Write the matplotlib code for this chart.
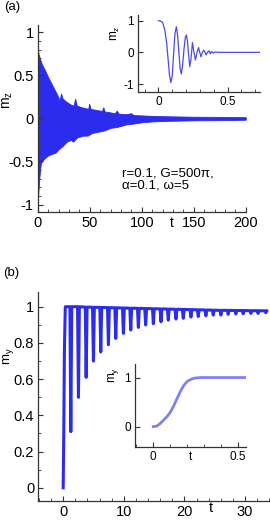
import matplotlib
matplotlib.use("Agg")
import matplotlib.pyplot as plt
from matplotlib.ticker import MultipleLocator

plt.rcParams['font.family'] = ['Liberation Sans', 'DejaVu Sans']
plt.rcParams['mathtext.fontset'] = 'custom'
plt.rcParams['mathtext.rm'] = 'Liberation Sans'
plt.rcParams['mathtext.it'] = 'Liberation Sans:italic'

BLUE = '#2c2cee'

# ---- panel (a): m_z envelope of the fast oscillation ----
a_up_t = [0, 1, 2, 4, 7, 10, 13, 16, 19, 21, 22.5, 24, 28, 32, 34.5, 36, 37.5,
          42, 46, 48.5, 49.5, 51, 56, 60, 62, 63, 64.5, 70, 74, 76, 78, 85, 90,
          92, 100, 110, 125, 150, 175, 200]
a_up_m = [0.80, 0.74, 0.70, 0.63, 0.56, 0.48, 0.41, 0.34, 0.27, 0.21, 0.29, 0.23,
          0.19, 0.16, 0.15, 0.23, 0.15, 0.13, 0.12, 0.11, 0.17, 0.11, 0.10, 0.09,
          0.09, 0.13, 0.08, 0.07, 0.06, 0.09, 0.055, 0.05, 0.06, 0.04, 0.035,
          0.03, 0.025, 0.02, 0.018, 0.015]
a_lo_t = [0, 0.5, 1.5, 3, 6, 10, 14, 17, 20, 24, 28, 32, 34, 38, 44, 48, 52, 60,
          64, 70, 76, 85, 92, 100, 110, 125, 150, 175, 200]
a_lo_m = [-0.95, -0.88, -0.70, -0.52, -0.47, -0.43, -0.41, -0.40, -0.36, -0.32,
          -0.27, -0.25, -0.27, -0.22, -0.20, -0.20, -0.17, -0.15, -0.14, -0.11,
          -0.10, -0.07, -0.06, -0.045, -0.035, -0.028, -0.022, -0.02, -0.015]

# inset (a): early-time m_z
ia_t = [0, 0.015, 0.03, 0.045, 0.06, 0.07, 0.08, 0.09, 0.1, 0.11, 0.12, 0.13,
        0.14, 0.148, 0.157, 0.166, 0.175, 0.185, 0.195, 0.203, 0.21, 0.217,
        0.227, 0.236, 0.246, 0.257, 0.268, 0.279, 0.29, 0.299, 0.308, 0.318,
        0.328, 0.337, 0.345, 0.355, 0.365, 0.375, 0.385, 0.395, 0.41, 0.44, 0.73]
ia_m = [1.0, 0.99, 0.95, 0.75, 0.3, -0.2, -0.7, -0.95, -0.75, -0.05, 0.6, 0.81,
        0.5, 0.0, -0.5, -0.68, -0.4, 0.1, 0.48, 0.55, 0.35, 0.0, -0.45, -0.2,
        0.31, 0.0, -0.24, 0.0, 0.15, 0.0, -0.14, 0.0, 0.07, 0.0, -0.08, 0.0,
        0.05, -0.04, 0.03, -0.02, 0.01, 0.0, 0.0]

# ---- panel (b): m_y ----
rise_t = [0.0, 0.1, 0.2, 0.35]
rise_m = [0.0, 0.3, 0.75, 1.0]
dip_t = [1.26, 2.52, 3.79, 4.99, 6.20, 7.46, 8.67, 9.93, 11.14, 12.40, 13.60,
         14.87, 16.13, 17.33, 18.60, 19.80, 21.06, 22.27, 23.53, 24.74, 26.00,
         27.21, 28.47, 29.68, 30.94, 32.14, 33.41]
dip_m = [0.31, 0.50, 0.61, 0.70, 0.75, 0.79, 0.825, 0.853, 0.871, 0.886, 0.899,
         0.906, 0.917, 0.926, 0.932, 0.936, 0.943, 0.946, 0.95, 0.954, 0.954,
         0.958, 0.96, 0.961, 0.963, 0.963, 0.967]
top_m = [1.0, 1.0, 0.998, 0.997, 0.996, 0.995, 0.994, 0.993, 0.992, 0.991, 0.99,
         0.989, 0.988, 0.987, 0.986, 0.985, 0.984, 0.983, 0.982, 0.981, 0.98,
         0.98, 0.979, 0.979, 0.978, 0.978, 0.977]

# inset (b): early-time m_y
ib_t = [0, 0.02, 0.04, 0.06, 0.08, 0.1, 0.12, 0.14, 0.16, 0.18, 0.2, 0.22,
        0.24, 0.26, 0.28, 0.3, 0.4, 0.55]
ib_m = [0, 0.01, 0.06, 0.13, 0.2, 0.29, 0.42, 0.57, 0.72, 0.84, 0.92, 0.96,
        0.985, 0.995, 1.0, 1.0, 1.0, 1.0]


def style(ax, fs):
    for s in ('top', 'right'):
        ax.spines[s].set_visible(False)
    for s in ('left', 'bottom'):
        ax.spines[s].set_linewidth(0.9)
        ax.spines[s].set_color('#333333')
    ax.tick_params(which='both', direction='in', labelsize=fs, pad=3,
                   color='#333333')
    ax.tick_params(which='major', length=3.5, width=0.8)
    ax.tick_params(which='minor', length=2, width=0.6)


W, H = 270.0, 520.0
fig = plt.figure(figsize=(2.7, 5.2), dpi=100)


def rect(l, r, t, b):
    return [l / W, (H - b) / H, (r - l) / W, (b - t) / H]


# main (a)
ax = fig.add_axes(rect(37.7, 245.7, 25, 212.3))
ax.fill_between(a_up_t, a_up_m, 0, color=BLUE, lw=0.6)
ax.fill_between(a_lo_t, a_lo_m, 0, color=BLUE, lw=0.6)
ax.set_xlim(0, 200)
ax.set_ylim(-1.09, 1.085)
ax.xaxis.set_major_locator(MultipleLocator(50))
ax.xaxis.set_minor_locator(MultipleLocator(10))
ax.yaxis.set_minor_locator(MultipleLocator(0.1))
ax.set_yticks([-1, -0.5, 0, 0.5, 1])
ax.set_yticklabels(['-1', '-0.5', '0', '0.5', '1'])
style(ax, 10.5)
ax.set_ylabel(r'$\mathregular{m_z}$', fontsize=10)
ax.yaxis.set_label_coords(-0.11, 0.6)
ax.set_xlabel('t', fontsize=10)
ax.xaxis.set_label_coords(0.646, -0.055)
ax.xaxis.label.set_va('center')
ax.text(80.8, -0.71, 'r=0.1, G=500\u03c0,\n\u03b1=0.1, \u03c9=5', fontsize=9.6,
        va='center', linespacing=0.95)

# inset (a)
ax = fig.add_axes(rect(138, 260, 15, 91.7))
ax.set_facecolor('white')
ax.plot(ia_t, ia_m, color='#4a4af0', lw=0.9)
ax.set_xlim(-0.147, 0.734)
ax.set_ylim(-1.24, 1.18)
ax.set_xticks([0, 0.5])
ax.set_xticklabels(['0', '0.5'])
ax.xaxis.set_minor_locator(MultipleLocator(0.1))
ax.set_yticks([-1, 0, 1])
ax.set_yticklabels(['-1', '0', '1'])
style(ax, 8.5)
ax.set_ylabel(r'$\mathregular{m_z}$', fontsize=8.5)
ax.yaxis.set_label_coords(-0.13, 0.76)

# main (b)
tb = list(rise_t)
mb = list(rise_m)
for t, m, p in zip(dip_t, dip_m, top_m):
    tb += [t - 0.15, t, t + 0.15]
    mb += [p, m, p]
ax = fig.add_axes(rect(38.3, 270, 291.7, 500.5))
ax.plot(tb, mb, color=BLUE, lw=2.2, solid_joinstyle='round')
ax.set_xlim(-4.1, 34.1)
ax.set_ylim(-0.07, 1.083)
ax.xaxis.set_major_locator(MultipleLocator(10))
ax.xaxis.set_minor_locator(MultipleLocator(2))
ax.yaxis.set_minor_locator(MultipleLocator(0.1))
ax.set_yticks([0, 0.2, 0.4, 0.6, 0.8, 1.0])
ax.set_yticklabels(['0', '0.2', '0.4', '0.6', '0.8', '1'])
style(ax, 10.5)
ax.set_ylabel(r'$\mathregular{m_y}$', fontsize=9.5)
ax.yaxis.set_label_coords(-0.098, 0.69)
ax.set_xlabel('t', fontsize=10.5)
ax.xaxis.set_label_coords(0.744, -0.035)
ax.xaxis.label.set_va('center')

# inset (b)
ax = fig.add_axes(rect(135, 246, 364.3, 446.7))
ax.patch.set_alpha(0)
ax.plot(ib_t, ib_m, color='#6a6af2', lw=2.0, alpha=0.85)
ax.set_xlim(-0.108, 0.547)
ax.set_ylim(-0.41, 1.27)
ax.set_xticks([0, 0.5])
ax.set_xticklabels(['0', '0.5'])
ax.xaxis.set_minor_locator(MultipleLocator(0.1))
ax.set_yticks([0, 1])
ax.set_yticklabels(['0', '1'])
style(ax, 8.5)
ax.set_ylabel(r'$\mathregular{m_y}$', fontsize=8.5)
ax.yaxis.set_label_coords(-0.13, 0.87)
ax.set_xlabel('t', fontsize=8.5)
ax.xaxis.set_label_coords(0.5, -0.12)
ax.xaxis.label.set_va('center')

fig.text(4 / W, 1 - 7 / H, '(a)', fontsize=9.5, va='center')
fig.text(3 / W, 1 - 273 / H, '(b)', fontsize=9.5, va='center')

fig.savefig('out.png', dpi=100)
